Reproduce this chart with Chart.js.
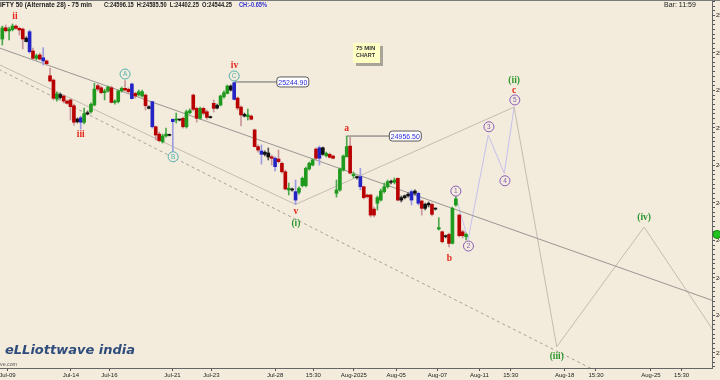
<!DOCTYPE html>
<html lang="en">
<head>
<meta charset="UTF-8">
<title>NIFTY 50 (Alternate 28) - 75 min</title>
<script src="https://cdn.jsdelivr.net/npm/chart.js"></script>
<style>
    html, body {
        margin: 0;
        padding: 0;
        background: #f3ecdc;
    }
    #wrap {
        width: 720px;
        height: 380px;
    }
</style>
</head>
<body>
<div id="wrap"><canvas id="chart" width="720" height="380"></canvas></div>

<script>
// 75 min candles, bar index 0..136 (one per bar, 6 bars a day)
const opens = [
    25474, 25534, 25517, 25524, 25543, 25531, 25527, 25478, 25513, 25410,
    25371, 25389, 25374, 25357, 25278, 25255, 25154, 25178, 25170, 25143,
    25149, 25118, 25047, 25054, 25030, 25081, 25086, 25122, 25225, 25214,
    25188, 25197, 25214, 25136, 25140, 25198, 25211, 25206, 25234, 25184,
    25177, 25170, 25175, 25113, 25140, 25006, 24967, 24926, 24957, 24964,
    25046, 25042, 25046, 25051, 25006, 25081, 25175, 25104, 25051, 25104,
    25086, 25060, 25131, 25120, 25122, 25166, 25184, 25223, 25241, 25159,
    25111, 25072, 25060, 25063, 24989, 24900, 24877, 24870, 24866, 24846,
    24838, 24834, 24811, 24766, 24669, 24674, 24660, 24656, 24692, 24692,
    24781, 24802, 24887, 24894, 24894, 24852, 24859, 24850, 24651, 24669,
    24775, 24846, 24903, 24745, 24740, 24740, 24686, 24642, 24642, 24567,
    24598, 24615, 24660, 24686, 24713, 24710, 24731, 24628, 24638, 24646,
    24660, 24663, 24651, 24610, 24592, 24598, 24592, 24571, 24461, 24446,
    24425, 24432, 24384, 24589, 24535, 24446, 24420
];
const highs = [
    25543, 25549, 25538, 25554, 25549, 25538, 25533, 25485, 25522, 25426,
    25394, 25399, 25428, 25362, 25319, 25261, 25191, 25186, 25175, 25149,
    25154, 25127, 25053, 25063, 25106, 25090, 25133, 25238, 25234, 25223,
    25207, 25223, 25223, 25149, 25202, 25218, 25252, 25213, 25239, 25191,
    25202, 25202, 25181, 25117, 25143, 25010, 24978, 24967, 24999, 24967,
    25047, 25079, 25047, 25058, 25095, 25101, 25181, 25111, 25111, 25111,
    25095, 25063, 25149, 25127, 25175, 25197, 25229, 25229, 25244.9, 25165,
    25117, 25079, 25101, 25069, 24994, 24909, 24909, 24877, 24893, 24855,
    24845, 24882, 24818, 24775, 24706, 24679, 24722, 24685, 24738, 24791,
    24818, 24834, 24893, 24903, 24898, 24871, 24866, 24855, 24722, 24786,
    24855, 24956.5, 24950, 24765, 24743, 24784, 24690, 24647, 24647, 24578,
    24637, 24674, 24706, 24722, 24722, 24733, 24733, 24637, 24642, 24653,
    24669, 24669, 24658, 24615, 24599, 24605, 24599, 24573, 24521, 24450,
    24429, 24439, 24578, 24633, 24541, 24455, 24439
];
const lows = [
    25442, 25511, 25469, 25517, 25527, 25495, 25421, 25458, 25399, 25362,
    25362, 25362, 25335, 25335, 25245, 25149, 25143, 25154, 25133, 25127,
    25042, 25015, 25026, 24994, 25021, 25069, 25079, 25117, 25197, 25181,
    25149, 25191, 25133, 25127, 25133, 25191, 25197, 25186, 25154, 25159,
    25170, 25165, 25095, 25101, 24999, 24935, 24925, 24919, 24951, 24957,
    24873, 25026, 25037, 24999, 24999, 25074, 25090, 25031, 25047, 25069,
    25047, 25053, 25085, 25101, 25117, 25159, 25181, 25197, 25149, 25095,
    25010, 25058, 25042, 25042, 24898, 24871, 24807, 24850, 24829, 24802,
    24770, 24813, 24759, 24669, 24642, 24663, 24592, 24647, 24685, 24685,
    24775, 24797, 24829, 24802, 24855, 24845, 24839, 24834, 24631, 24663,
    24770, 24845, 24754, 24733, 24727, 24669, 24621, 24626, 24525, 24525,
    24562, 24610, 24653, 24679, 24701, 24701, 24610, 24605, 24621, 24631,
    24589, 24642, 24589, 24535, 24562, 24578, 24530, 24562, 24455, 24386,
    24413, 24365, 24381, 24583, 24418, 24413, 24402
];
const closes = [
    25533, 25518, 25527, 25543, 25531, 25522, 25474, 25460, 25406, 25371,
    25385, 25367, 25357, 25342, 25250, 25158, 25182, 25162, 25143, 25131,
    25113, 25030, 25033, 25030, 25076, 25074, 25126, 25207, 25207, 25188,
    25197, 25218, 25136, 25143, 25197, 25211, 25202, 25193, 25156, 25170,
    25193, 25193, 25118, 25104, 25006, 24962, 24932, 24957, 24967, 24960,
    25033, 25047, 25042, 25006, 25086, 25092, 25099, 25051, 25104, 25078,
    25056, 25054, 25104, 25106, 25170, 25188, 25223, 25202, 25152, 25106,
    25069, 25063, 25069, 25046, 24900, 24882, 24859, 24859, 24845, 24838,
    24793, 24820, 24766, 24674, 24678, 24669, 24615, 24678, 24731, 24784,
    24811, 24829, 24838, 24838, 24859, 24864, 24843, 24838, 24669, 24781,
    24850, 24900, 24759, 24752, 24734, 24686, 24628, 24633, 24535, 24535,
    24628, 24663, 24686, 24713, 24710, 24722, 24615, 24615, 24628, 24638,
    24615, 24651, 24598, 24571, 24571, 24589, 24539, 24567, 24468, 24393,
    24420, 24384, 24571, 24621, 24425, 24425, 24432
];
// g = up, r = down, b = blue bar, k = black (small body)
const candleTones = (
    'grggrrrkbr' + 'grbrrrgkrr' + 'rrkbgkggrr' + 'ggrgggrrbr' + 'ggrkbrrggk' +
    'bgkrggrrgr' + 'rkrkgggkbr' + 'rkgrrrbkkr' + 'brrrgkbggg' + 'ggrbkgrrgg' +
    'ggrgkbrrrr' + 'ggggkgrkkk' + 'bkbrkkrkgr' + 'krggrrg'
).split('');

// drawn lines, [bar, price]
const channelLine = [[-1, 25427], [211, 24062]];
const dashedLine = [[-1, 25312], [211, 23365]];
const projectionPath = [[-1, 25338], [86, 24592], [150.1, 25111], [162.6, 23833], [188.2, 24471], [211, 23852]];
const subWavePath = [[133, 24633], [136.6, 24405], [142.5, 24962], [147.2, 24758], [150.1, 25111]];
const leaderC = [[68, 25244.9], [80.5, 25244.9]];
const leaderA = [[101, 24956.5], [113.5, 24956.5]];

// price tags
const tagBars = [80.5, 113.5];
const tagPrices = [25244.90, 24956.50];

// wave labels
const waveText  = ['ii', 'iii', 'iv', 'v', 'a', 'b', 'c', '(i)', '(ii)', '(iii)', '(iv)', 'A', 'B', 'C', '1', '2', '3', '4', '5'];
const waveKind  = ['red', 'red', 'red', 'red', 'red', 'red', 'red', 'green', 'green', 'green', 'green',
                   'teal', 'teal', 'teal', 'violet', 'violet', 'violet', 'violet', 'violet'];
const waveBar   = [3.7, 23, 68.1, 86.1, 101, 131.1, 150.1, 86.1, 150.1, 162.6, 188.2, 36, 50.1, 68, 133, 136.7, 142.7, 147.4, 150.3];
const wavePrice = [25593, 24962, 25335, 24553, 24994, 24301, 25197, 24491, 25255, 23783, 24523, 25287, 24846, 25277, 24663, 24370, 25006, 24718, 25149];

// axes
const xTickBars = [1.5, 20.1, 31.4, 49.9, 61.3, 80.0, 91.2, 103.1, 115.5, 127.6, 139.9, 149.1, 164.9, 174.1, 190.2, 199.2];
const xTickLabels = ['Jul-09', 'Jul-14', 'Jul-16', 'Jul-21', 'Jul-23', 'Jul-28', '15:30', 'Aug-2025', 'Aug-05',
                     'Aug-07', 'Aug-11', '15:30', 'Aug-18', '15:30', 'Aug-25', '15:30'];
const yLabelValues = [23800, 24000, 24200, 24400, 24600, 24800, 25000, 25200, 25400, 25600];
const yMinorStep = 25;

const X_MIN = -0.674, X_MAX = 208.12;
const Y_MIN = 23719.5, Y_MAX = 25682;

const bodyColors = { g: '#1f9a1f', r: '#b80000', b: '#2424c4', k: '#121212' };
const wickColors = { g: '#4ca84c', r: '#c8969a', b: '#9c9ae2', k: '#555555' };

const toPts = arr => arr.map(p => ({ x: p[0], y: p[1] }));

function lineSet(points, color, dash) {
    return {
        type: 'line',
        data: toPts(points),
        borderColor: color,
        borderWidth: 1,
        borderDash: dash || [],
        pointRadius: 0,
        fill: false,
        tension: 0,
        order: 2
    };
}

const wickData = opens.map((o, i) => ({ x: i, y: [lows[i], highs[i]] }));
const bodyData = opens.map((o, i) => ({ x: i, y: [o, closes[i]] }));

function drawCircleLabel(c, text, x, y, color) {
    c.beginPath();
    c.arc(x, y, 5, 0, Math.PI * 2);
    c.fillStyle = '#f3ecdc';
    c.fill();
    c.strokeStyle = color;
    c.lineWidth = 1;
    c.stroke();
    c.fillStyle = color;
    c.font = '6.5px Arial';
    c.textAlign = 'center';
    c.textBaseline = 'middle';
    c.fillText(text, x, y + 0.5);
}

function roundBox(c, x, y, w, h, r) {
    c.beginPath();
    c.moveTo(x + r, y);
    c.lineTo(x + w - r, y);
    c.quadraticCurveTo(x + w, y, x + w, y + r);
    c.lineTo(x + w, y + h - r);
    c.quadraticCurveTo(x + w, y + h, x + w - r, y + h);
    c.lineTo(x + r, y + h);
    c.quadraticCurveTo(x, y + h, x, y + h - r);
    c.lineTo(x, y + r);
    c.quadraticCurveTo(x, y, x + r, y);
    c.closePath();
}

const overlay = {
    id: 'overlay',
    beforeDraw(chart) {
        const c = chart.ctx;
        c.save();
        c.fillStyle = '#f3ecdc';
        c.fillRect(0, 0, chart.width, chart.height);
        c.restore();
    },
    afterDraw(chart) {
        const c = chart.ctx;
        const xs = chart.scales.x, ys = chart.scales.y, area = chart.chartArea;
        const X = v => xs.getPixelForValue(v);
        const Y = v => ys.getPixelForValue(v);
        c.save();

        // frame line on top
        c.strokeStyle = '#7a7a7a';
        c.lineWidth = 1;
        c.beginPath();
        c.moveTo(0, 0.5);
        c.lineTo(chart.width, 0.5);
        c.stroke();

        // header
        c.textBaseline = 'middle';
        c.textAlign = 'left';
        c.font = 'bold 7px Arial';
        c.fillStyle = '#222';
        c.fillText('IFTY 50 (Alternate 28) - 75 min', 0, 5.5, 92);
        c.fillText('C:24596.15  H:24585.50  L:24402.25  O:24544.25', 104, 5.5, 128);
        c.fillStyle = '#3434d0';
        c.fillText('CH:-0.65%', 239, 5.5, 28);
        c.fillStyle = '#222';
        c.font = '7px Arial';
        c.fillText('Bar: 11:59', 664, 5.5, 39);

        // price tags
        tagBars.forEach((b, i) => {
            const x = X(b), y = Y(tagPrices[i]);
            roundBox(c, x, y - 5, 32, 10, 3);
            c.fillStyle = '#ffffff';
            c.fill();
            c.strokeStyle = '#5a5a5a';
            c.stroke();
            c.fillStyle = '#2a2ad8';
            c.font = '7.5px Arial';
            c.textAlign = 'center';
            c.fillText(tagPrices[i].toFixed(2), x + 16, y + 0.5, 29);
        });

        // wave labels
        waveText.forEach((t, i) => {
            const x = X(waveBar[i]), y = Y(wavePrice[i]);
            const kind = waveKind[i];
            if (kind === 'teal') {
                drawCircleLabel(c, t, x, y, '#55b0b0');
            } else if (kind === 'violet') {
                drawCircleLabel(c, t, x, y, '#8a5cba');
            } else {
                c.textAlign = 'center';
                c.textBaseline = 'middle';
                c.font = 'bold 9.5px "Liberation Serif"';
                c.fillStyle = kind === 'red' ? '#e4261c' : '#2c962c';
                c.fillText(t, x, y);
            }
        });

        // 75 min note
        c.fillStyle = '#a8a49a';
        c.fillRect(356, 46, 27, 20);
        c.fillStyle = '#ffffc4';
        c.fillRect(353, 43, 27, 20);
        c.fillStyle = '#333';
        c.font = 'bold 6px Arial';
        c.textAlign = 'left';
        c.fillText('75 MIN', 356, 48.5, 20);
        c.fillText('CHART', 356, 55.5, 19);

        // last price marker on the axis
        const ly = Y(closes[closes.length - 1]);
        c.beginPath();
        c.arc(area.right + 5, ly, 4, 0, Math.PI * 2);
        c.fillStyle = '#22c422';
        c.fill();
        c.strokeStyle = '#138a13';
        c.stroke();

        // logo
        c.font = 'italic bold 13px "DejaVu Sans"';
        c.fillStyle = '#2f4c7c';
        c.textAlign = 'left';
        c.textBaseline = 'alphabetic';
        c.fillText('eLLiottwave india', 5, 353.5, 137);
        c.font = '5.5px Arial';
        c.fillStyle = '#555';
        c.fillText('ve.com', 0, 366, 17);

        c.restore();
    }
};

const ctx = document.getElementById('chart').getContext('2d');
new Chart(ctx, {
    type: 'bar',
    data: {
        datasets: [
            {
                data: bodyData,
                backgroundColor: candleTones.map(t => bodyColors[t]),
                barThickness: 3,
                minBarLength: 1,
                grouped: false,
                order: 0
            },
            {
                data: wickData,
                backgroundColor: candleTones.map(t => wickColors[t]),
                barThickness: 1,
                grouped: false,
                order: 1
            },
            lineSet(channelLine, '#9a9692'),
            lineSet(projectionPath, '#c4bcb2'),
            lineSet(dashedLine, '#a8a09a', [3, 3]),
            lineSet(subWavePath, '#c6c0ee'),
            lineSet(leaderC, '#6a6a6a'),
            lineSet(leaderA, '#6a6a6a')
        ]
    },
    options: {
        responsive: false,
        animation: false,
        layout: { padding: 0 },
        plugins: {
            legend: { display: false },
            tooltip: { enabled: false }
        },
        scales: {
            x: {
                type: 'linear',
                min: X_MIN,
                max: X_MAX,
                offset: false,
                grid: { drawOnChartArea: false, offset: false, tickLength: 3, color: '#555' },
                border: { color: '#666' },
                ticks: {
                    autoSkip: false,
                    maxRotation: 0,
                    padding: 1,
                    font: { size: 6, family: 'Arial' },
                    color: '#222',
                    callback: (v, i) => xTickLabels[i]
                },
                afterBuildTicks: s => { s.ticks = xTickBars.map(v => ({ value: v })); },
                afterFit: s => { s.height = 12; s.paddingLeft = 0; s.paddingRight = 0; }
            },
            y: {
                type: 'linear',
                position: 'right',
                min: Y_MIN,
                max: Y_MAX,
                grid: { drawOnChartArea: false, tickLength: 3, color: '#555' },
                border: { color: '#666' },
                ticks: {
                    autoSkip: false,
                    padding: 1,
                    font: { size: 6, family: 'Arial' },
                    color: '#222',
                    callback: v => yLabelValues.includes(v) ? String(v) : ''
                },
                afterBuildTicks: s => {
                    const t = [];
                    for (let v = Math.ceil(Y_MIN / yMinorStep) * yMinorStep; v <= Y_MAX; v += yMinorStep) t.push({ value: v });
                    s.ticks = t;
                },
                afterFit: s => { s.width = 8; s.paddingTop = 0; s.paddingBottom = 0; }
            }
        }
    },
    plugins: [overlay]
});
</script>
</body>
</html>
